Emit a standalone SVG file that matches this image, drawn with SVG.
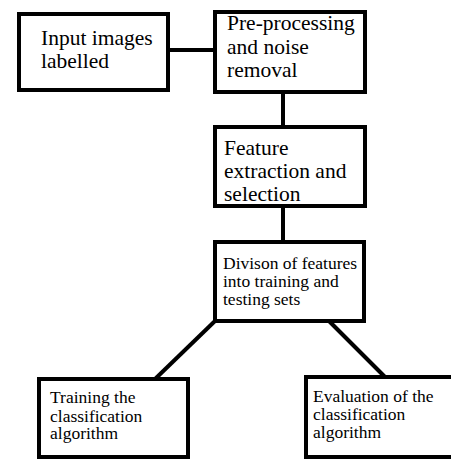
<svg xmlns="http://www.w3.org/2000/svg" width="451" height="461" viewBox="0 0 451 461">
<style>
.box{fill:#fff;stroke:#000;stroke-width:4}
.c{stroke:#000;stroke-width:4;fill:none}
.l{font-size:21.5px}
.s{font-size:17.5px}
</style>
<rect width="451" height="461" fill="#fff"/>
<g id="connectors">
<line class="c" x1="168" y1="50" x2="215" y2="50"/>
<line class="c" x1="283" y1="92" x2="283" y2="127"/>
<line class="c" x1="283" y1="206" x2="283" y2="242"/>
<line class="c" x1="215" y1="321" x2="154" y2="380"/>
<line class="c" x1="329" y1="321" x2="385" y2="377"/>
</g>
<g font-family="'Liberation Serif', 'Times New Roman', serif" fill="#000">
<g id="n1">
<rect class="box" x="19" y="14" width="149" height="76"/>
<text class="l" x="41" y="45">Input images</text>
<text class="l" x="41" y="68">labelled</text>
</g>
<g id="n2">
<rect class="box" x="215" y="12" width="150" height="80"/>
<text class="l" x="227" y="30">Pre-processing</text>
<text class="l" x="227" y="54">and noise</text>
<text class="l" x="227" y="77">removal</text>
</g>
<g id="n3">
<rect class="box" x="215" y="127" width="150" height="79"/>
<text class="l" x="224" y="155">Feature</text>
<text class="l" x="224" y="178">extraction and</text>
<text class="l" x="224" y="201">selection</text>
</g>
<g id="n4">
<rect class="box" x="215" y="242" width="149" height="79"/>
<text class="s" x="223" y="269">Divison of features</text>
<text class="s" x="223" y="287">into training and</text>
<text class="s" x="223" y="305">testing sets</text>
</g>
<g id="n5">
<rect class="box" x="39" y="379" width="149" height="78"/>
<text class="s" x="50" y="403">Training the</text>
<text class="s" x="50" y="422">classification</text>
<text class="s" x="50" y="439">algorithm</text>
</g>
<g id="n6">
<rect class="box" x="306" y="377" width="150" height="80"/>
<text class="s" x="313" y="402">Evaluation of the</text>
<text class="s" x="313" y="420">classification</text>
<text class="s" x="313" y="438">algorithm</text>
</g>
</g>
</svg>
